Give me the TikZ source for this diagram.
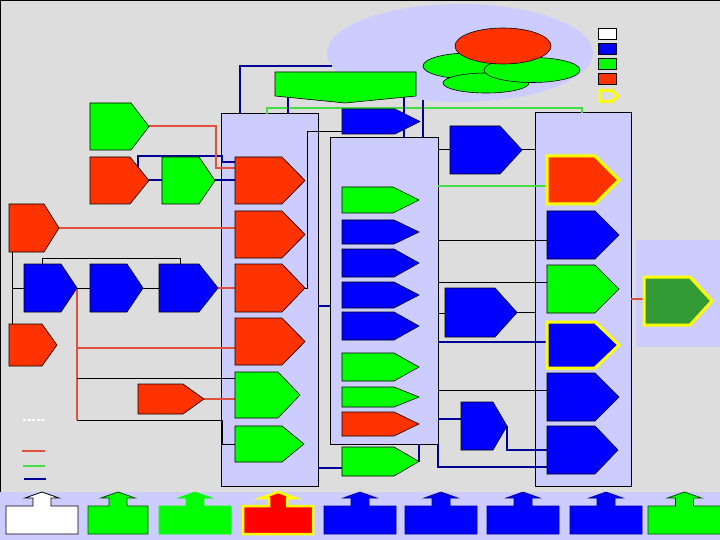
\documentclass[tikz,border=0pt]{standalone}
\definecolor{bggray}{HTML}{DDDDDD}
\definecolor{lav}{HTML}{CCCCFF}
\definecolor{myred}{HTML}{FF3300}
\definecolor{purered}{HTML}{FF0000}
\definecolor{mygreen}{HTML}{00FF00}
\definecolor{myblue}{HTML}{0000FF}
\definecolor{dkgreen}{HTML}{339933}
\definecolor{yel}{HTML}{FFFF00}
\definecolor{cred}{HTML}{E0503A}
\definecolor{cgreen}{HTML}{44DD44}
\definecolor{cblue}{HTML}{000099}
\newcommand{\pent}[7]{%
  \draw[#7] (#2,#5) -- (#3,#5) -- (#4,{(#5+#6)/2}) -- (#3,#6) -- (#2,#6) -- cycle;
  \coordinate (#1-e) at (#4,{(#5+#6)/2});
  \coordinate (#1-w) at (#2,{(#5+#6)/2});
}
\newcommand{\upbox}[4]{%
  \pgfmathsetmacro\cxm{(#1+#2)/2}
  \draw[#3] (#1,534) -- (#1,506) -- ({\cxm-9},506) -- ({\cxm-9},498) -- ({\cxm-17},498) -- (\cxm,492) -- ({\cxm+17},498) -- ({\cxm+9},498) -- ({\cxm+9},506) -- (#2,506) -- (#2,534) -- cycle;
  \coordinate (#4) at (\cxm,513);
}
\begin{document}
\begin{tikzpicture}[x=1pt,y=-1pt,
  shp/.style={draw=black, line width=0.6pt, line join=miter},
  redshape/.style={shp, fill=myred},
  greenshape/.style={shp, fill=mygreen},
  blueshape/.style={shp, fill=myblue},
  redyel/.style={fill=myred, draw=yel, line width=3pt, line join=miter},
  blueyel/.style={fill=myblue, draw=yel, line width=3pt, line join=miter},
  dgyel/.style={fill=dkgreen, draw=yel, line width=3pt, line join=miter},
  cont/.style={fill=lav, draw=black, line width=1pt},
  rline/.style={draw=cred, line width=2pt},
  gline/.style={draw=cgreen, line width=2pt},
  bline/.style={draw=cblue, line width=2pt},
  kline/.style={draw=black, line width=1pt},
  ell/.style={draw=black, line width=0.6pt}]
\useasboundingbox (0,0) rectangle (720,540);
% background
\fill[bggray] (0,0) rectangle (720,492);
\fill[lav] (0,492) rectangle (720,540);
\draw[black, line width=1.2pt] (0.6,492) -- (0.6,0.6) -- (720,0.6);
% big lavender ellipse and the cluster
\fill[lav] (460,53) ellipse [x radius=133pt, y radius=49pt];
\draw[ell, fill=mygreen] (470,66) ellipse [x radius=47pt, y radius=13pt];
\draw[ell, fill=mygreen] (486,83) ellipse [x radius=43pt, y radius=10pt];
\draw[ell, fill=mygreen] (532,70) ellipse [x radius=48pt, y radius=12.5pt];
\draw[ell, fill=myred] (503,46) ellipse [x radius=48pt, y radius=18pt];
% legend
\draw[shp, fill=white] (598,28) rectangle (616,39);
\draw[shp, fill=myblue] (598,43) rectangle (616,54);
\draw[shp, fill=mygreen] (598,58) rectangle (616,69);
\draw[shp, fill=myred] (598,73) rectangle (616,84);
\draw[draw=yel, line width=3pt, line join=miter] (600,90.5) -- (612,90.5) -- (617.5,96) -- (612,101.5) -- (600,101.5) -- cycle;
\draw[draw=white, line width=1.5pt, dash pattern=on 3pt off 1.5pt] (23,420) -- (44,420);
\draw[rline] (22,451) -- (45,451);
\draw[gline] (23,466) -- (45,466);
\draw[bline] (24,479) -- (46,479);
% containers
\draw[cont] (221,114) rectangle (318,486);
\draw[cont] (330,138) rectangle (438,444);
\draw[cont] (535,113) rectangle (631,486);
\fill[lav] (636,240) rectangle (720,347);
% connectors: green
\draw[gline] (267,114) -- (267,108) -- (582,108) -- (582,113);
\draw[gline] (438,186) -- (547,186);
% connectors: blue
\draw[bline] (332,66) -- (240,66) -- (240,114);
\draw[bline] (288,97) -- (288,114);
\draw[bline] (404,97) -- (404,138);
\draw[bline] (423,100) -- (423,138);
\draw[bline] (138,167) -- (138,156) -- (222,156) -- (222,162) -- (235,162);
\draw[bline] (318,306) -- (330,306);
\draw[bline] (318,468) -- (342,468);
\draw[bline] (419,444) -- (419,461.5);
\draw[bline] (438,342) -- (547,342);
\draw[bline] (438,419) -- (461,419);
\draw[bline] (507,426) -- (507,450) -- (547,450);
\draw[bline] (438,444) -- (438,467) -- (547,467);
% connectors: red
\draw[rline] (149,126.5) -- (216,126.5) -- (216,168) -- (235,168);
\draw[rline] (59,228) -- (235,228);
\draw[rline] (218,288) -- (235,288);
\draw[rline] (77,288) -- (77,420);
\draw[rline] (77,348) -- (235,348);
\draw[rline] (204,399) -- (235,399);
\draw[rline] (631,299) -- (644,299);
\draw[bline] (149,180.5) -- (162,180.5);
\draw[bline] (215,180.5) -- (235,180.5);
% connectors: black
\draw[kline] (12,252) -- (12,324);
\draw[kline] (12,288) -- (24,288);
\draw[kline] (77,288) -- (90,288);
\draw[kline] (143,288) -- (159,288);
\draw[kline] (42,264) -- (42,258) -- (180,258) -- (180,264);
\draw[kline] (77,378) -- (235,378);
\draw[kline] (77,420) -- (222,420) -- (222,444) -- (235,444);
\draw[kline] (305,288) -- (307,288) -- (307,132) -- (342,132);
\draw[kline] (438,150) -- (450,150);
\draw[kline] (522,150) -- (535,150);
\draw[kline] (438,240) -- (547,240);
\draw[kline] (438,282) -- (547,282);
\draw[kline] (438,313) -- (445,313);
\draw[kline] (517,312.5) -- (535,312.5);
\draw[kline] (438,390) -- (547,390);
% green banner
\draw[shp, fill=mygreen] (275,72) -- (416,72) -- (416,96) -- (345,103) -- (275,96) -- cycle;
% left shapes
\pent{gA}{90}{131}{149}{103}{150}{greenshape}
\pent{rA}{90}{130}{149}{157}{204}{redshape}
\pent{gB}{162}{199}{215}{157}{204}{greenshape}
\pent{rB}{9}{44}{59}{204}{252}{redshape}
\pent{b1}{24}{61}{77}{264}{312}{blueshape}
\pent{b2}{90}{127}{143}{264}{312}{blueshape}
\pent{b3}{159}{199}{218}{264}{312}{blueshape}
\pent{rC}{9}{42}{57}{324}{366}{redshape}
\pent{rD}{138}{183}{204}{384}{414}{redshape}
% column 1
\pent{R1}{235}{282}{305}{157}{204}{redshape}
\pent{R2}{235}{282}{305}{211}{258}{redshape}
\pent{R3}{235}{282}{305}{264}{312}{redshape}
\pent{R4}{235}{282}{305}{318}{365}{redshape}
\pent{G1}{235}{278}{300}{372}{418}{greenshape}
\pent{G2}{235}{282}{304}{426}{462}{greenshape}
% top blue and column 2
\pent{T}{342}{395}{420}{109}{134}{blueshape}
\pent{c1}{342}{393}{419}{187}{213}{greenshape}
\pent{c2}{342}{394}{419}{220}{244}{blueshape}
\pent{c3}{342}{394}{419}{249}{277}{blueshape}
\pent{c4}{342}{394}{419}{282}{308}{blueshape}
\pent{c5}{342}{394}{419}{312}{340}{blueshape}
\pent{c6}{342}{394}{419}{353}{381}{greenshape}
\pent{c7}{342}{394}{419}{387}{407}{greenshape}
\pent{c8}{342}{394}{419}{412}{436}{redshape}
\pent{c9}{342}{394}{419}{447}{476}{greenshape}
% between columns
\pent{bP}{450}{500}{522}{126}{174}{blueshape}
\pent{bQ}{445}{495}{517}{288}{337}{blueshape}
\pent{bS}{461}{493}{507}{402}{450}{blueshape}
% column 3
\pent{K1}{547}{595}{619}{156}{204}{redyel}
\pent{K2}{547}{595}{619}{211}{259}{blueshape}
\pent{K3}{547}{595}{619}{265}{313}{greenshape}
\pent{K4}{547}{595}{619}{322}{368}{blueyel}
\pent{K5}{547}{595}{619}{373}{421}{blueshape}
\pent{K6}{547}{595}{618}{426}{474}{blueshape}
% right panel
\pent{DG}{644}{690}{712}{277}{325}{dgyel}
% bottom band
\upbox{6}{78}{fill=white, draw=black, line width=0.8pt}{u1}
\upbox{88}{148}{fill=mygreen, draw=black!70!green, line width=0.8pt}{u2}
\upbox{159}{231}{fill=mygreen, draw=mygreen, line width=0.6pt}{u3}
\upbox{243}{313}{fill=purered, draw=yel, line width=2.5pt, line join=miter}{u4}
\upbox{324}{396}{fill=myblue, draw=cblue, line width=0.6pt}{u5}
\upbox{405}{477}{fill=myblue, draw=cblue, line width=0.6pt}{u6}
\upbox{487}{559}{fill=myblue, draw=cblue, line width=0.6pt}{u7}
\upbox{570}{642}{fill=myblue, draw=cblue, line width=0.6pt}{u8}
\upbox{648}{721}{fill=mygreen, draw=black!70!green, line width=0.8pt}{u9}
\end{tikzpicture}
\end{document}
